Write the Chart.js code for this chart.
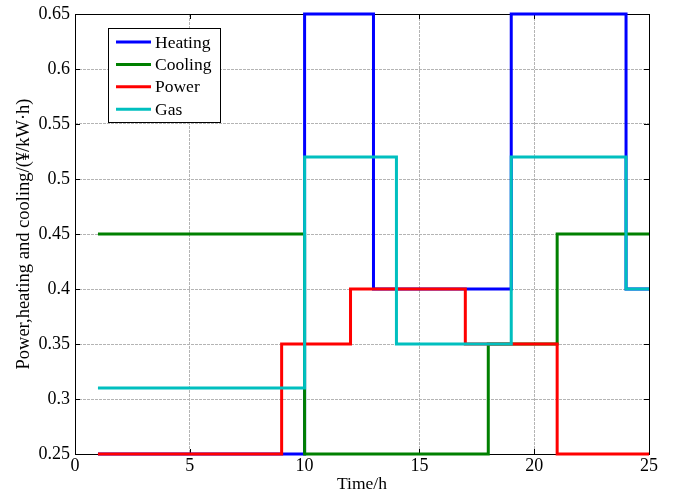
<!DOCTYPE html>
<html>
<head>
<meta charset="utf-8">
<script src="https://cdn.jsdelivr.net/npm/chart.js@4/dist/chart.umd.min.js"></script>
<style>
  html, body { margin: 0; padding: 0; background: #fff; }
  #wrap { position: relative; width: 680px; height: 498px; }
</style>
</head>
<body>
<div id="wrap"><canvas id="c"></canvas></div>
<script>
// Hourly energy prices (hour 25 repeats the last hour so the final step is drawn)
const hours   = [1,2,3,4,5,6,7,8,9,10,11,12,13,14,15,16,17,18,19,20,21,22,23,24,25];
const heating = [0.25,0.25,0.25,0.25,0.25,0.25,0.25,0.25,0.25,0.65,0.65,0.65,0.4,0.4,0.4,0.4,0.4,0.4,0.65,0.65,0.65,0.65,0.65,0.4,0.4];
const cooling = [0.45,0.45,0.45,0.45,0.45,0.45,0.45,0.45,0.45,0.25,0.25,0.25,0.25,0.25,0.25,0.25,0.25,0.35,0.35,0.35,0.45,0.45,0.45,0.45,0.45];
const power   = [0.25,0.25,0.25,0.25,0.25,0.25,0.25,0.25,0.35,0.35,0.35,0.4,0.4,0.4,0.4,0.4,0.35,0.35,0.35,0.35,0.25,0.25,0.25,0.25,0.25];
const gas     = [0.31,0.31,0.31,0.31,0.31,0.31,0.31,0.31,0.31,0.52,0.52,0.52,0.52,0.35,0.35,0.35,0.35,0.35,0.52,0.52,0.52,0.52,0.52,0.4,0.4];

const seriesNames  = ['Heating', 'Cooling', 'Power', 'Gas'];
const seriesColors = ['#0000ff', '#008000', '#ff0000', '#00bfbf'];
const xTicks = [0, 5, 10, 15, 20, 25];
const yTicks = [0.25, 0.3, 0.35, 0.4, 0.45, 0.5, 0.55, 0.6, 0.65];

const FONT = 'Liberation Serif';

function toPoints(values) {
  return hours.map((h, i) => ({ x: h, y: values[i] }));
}

const allSeries = [heating, cooling, power, gas];
const datasets = allSeries.map((vals, i) => ({
  label: seriesNames[i],
  data: toPoints(vals),
  borderColor: seriesColors[i],
  backgroundColor: seriesColors[i],
  borderWidth: 3,
  stepped: true,
  pointRadius: 0,
  fill: false,
  clip: 4,
  // later series are painted on top of earlier ones
  order: allSeries.length - i
}));

// Axes box with inward tick marks on all four sides
const boxPlugin = {
  id: 'box',
  beforeDatasetsDraw(chart) {
    const { ctx, chartArea: a, scales: { x, y } } = chart;
    ctx.save();
    ctx.strokeStyle = '#000';
    ctx.lineWidth = 1;
    ctx.setLineDash([]);
    ctx.beginPath();
    const tl = 5;
    xTicks.forEach(v => {
      const px = Math.round(x.getPixelForValue(v)) + 0.5;
      ctx.moveTo(px, a.bottom); ctx.lineTo(px, a.bottom - tl);
      ctx.moveTo(px, a.top);    ctx.lineTo(px, a.top + tl);
    });
    yTicks.forEach(v => {
      const py = Math.round(y.getPixelForValue(v)) + 0.5;
      ctx.moveTo(a.left, py);  ctx.lineTo(a.left + tl, py);
      ctx.moveTo(a.right, py); ctx.lineTo(a.right - tl, py);
    });
    ctx.stroke();
    ctx.strokeRect(Math.round(a.left) + 0.5, Math.round(a.top) + 0.5,
                   Math.round(a.right - a.left), Math.round(a.bottom - a.top));
    ctx.restore();
  }
};

// Boxed legend inside the plot area
const legendPlugin = {
  id: 'boxLegend',
  afterDatasetsDraw(chart) {
    const { ctx } = chart;
    const bx = 108.5, by = 28.5, bw = 112, bh = 94;
    ctx.save();
    ctx.fillStyle = '#fff';
    ctx.fillRect(bx, by, bw, bh);
    ctx.strokeStyle = '#000';
    ctx.lineWidth = 1;
    ctx.strokeRect(bx, by, bw, bh);
    ctx.font = '17.5px "' + FONT + '"';
    ctx.textBaseline = 'middle';
    ctx.textAlign = 'left';
    chart.data.datasets.forEach((ds, i) => {
      const yy = 42 + i * 22.4;
      ctx.strokeStyle = ds.borderColor;
      ctx.lineWidth = 3;
      ctx.beginPath();
      ctx.moveTo(116, yy);
      ctx.lineTo(151, yy);
      ctx.stroke();
      ctx.fillStyle = '#000';
      ctx.fillText(ds.label, 155, yy + 1);
    });
    ctx.restore();
  }
};

const tickFont = { family: FONT, size: 18 };

new Chart(document.getElementById('c'), {
  type: 'line',
  data: { datasets },
  options: {
    responsive: true,
    maintainAspectRatio: false,
    animation: false,
    events: [],
    layout: { padding: { top: 14, right: 31, bottom: 0, left: 0 } },
    plugins: {
      legend: { display: false },
      tooltip: { enabled: false }
    },
    scales: {
      x: {
        type: 'linear',
        min: 0,
        max: 25,
        afterBuildTicks: s => { s.ticks = xTicks.map(v => ({ value: v })); },
        afterFit: s => { s.height = 44; s.paddingLeft = 0; s.paddingRight = 0; },
        ticks: { font: tickFont, color: '#000', padding: 1, maxRotation: 0, autoSkip: false },
        grid: { color: '#b4b4b4', lineWidth: 1, drawTicks: false },
        border: { display: false, dash: [3, 1] },
        title: {
          display: true,
          text: 'Time/h',
          font: { family: FONT, size: 17.5 },
          color: '#000',
          padding: { top: 0, bottom: 3 }
        }
      },
      y: {
        type: 'linear',
        min: 0.25,
        max: 0.65,
        afterBuildTicks: s => { s.ticks = yTicks.map(v => ({ value: v })); },
        afterFit: s => { s.width = 75; s.paddingTop = 0; s.paddingBottom = 0; },
        ticks: {
          font: tickFont,
          color: '#000',
          padding: 5,
          autoSkip: false,
          callback: v => String(+v.toFixed(2))
        },
        grid: { color: '#b4b4b4', lineWidth: 1, drawTicks: false },
        border: { display: false, dash: [3, 1] },
        title: {
          display: true,
          text: 'Power,heating and cooling/(¥/kW·h)',
          font: { family: FONT, size: 18.5 },
          color: '#000',
          padding: { top: 13, bottom: 0 }
        }
      }
    }
  },
  plugins: [boxPlugin, legendPlugin]
});
</script>
</body>
</html>
